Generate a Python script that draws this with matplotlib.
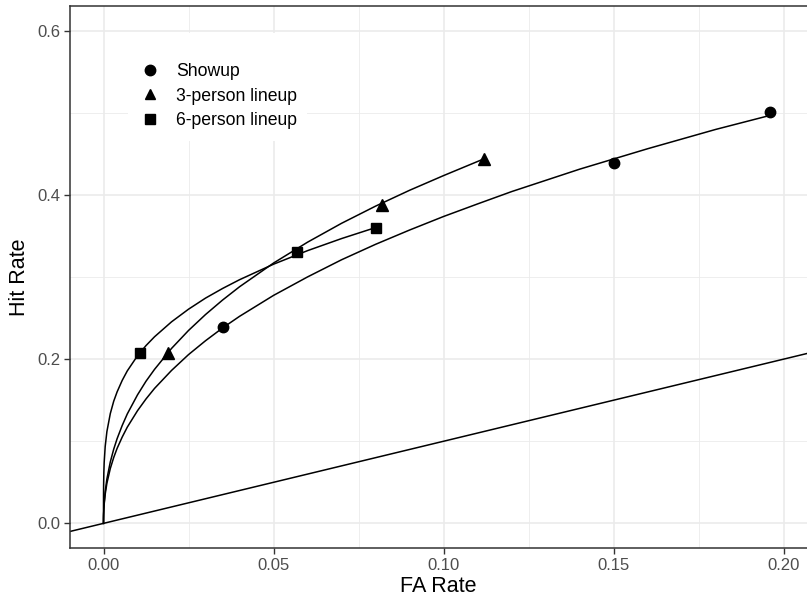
import matplotlib
matplotlib.use("Agg")
import matplotlib.pyplot as plt
from matplotlib.lines import Line2D
from matplotlib.patches import Rectangle

plt.rcParams['font.family'] = ['Liberation Sans', 'DejaVu Sans']

# observed operating points
showup_fa = [0.035, 0.150, 0.196]
showup_hit = [0.239, 0.439, 0.501]
three_fa = [0.019, 0.082, 0.112]
three_hit = [0.208, 0.388, 0.444]
six_fa = [0.0106, 0.057, 0.080]
six_hit = [0.207, 0.331, 0.360]

# fitted ROC curves
showup_curve_fa = [0, 0.000001, 0.00001, 0.00003, 0.0001, 0.0002, 0.0005, 0.001, 0.002, 0.003,
                   0.004, 0.0055, 0.007, 0.01, 0.0125, 0.015, 0.02, 0.025, 0.03, 0.035, 0.04,
                   0.05, 0.06, 0.07, 0.08, 0.09, 0.10, 0.11, 0.12, 0.14, 0.16, 0.18, 0.196]
showup_curve_hit = [0, 0.0020, 0.0058, 0.0097, 0.0170, 0.0233, 0.0355, 0.0489, 0.0668, 0.0802,
                    0.0913, 0.1051, 0.1172, 0.1372, 0.1515, 0.1643, 0.1862, 0.2055, 0.2224,
                    0.2379, 0.2521, 0.2776, 0.3001, 0.3210, 0.3398, 0.3572, 0.3737, 0.3890,
                    0.4040, 0.4313, 0.4562, 0.4797, 0.4968]
three_curve_fa = [0, 0.000001, 0.00001, 0.00003, 0.0001, 0.0002, 0.0005, 0.001, 0.002, 0.003,
                  0.004, 0.0055, 0.007, 0.01, 0.0125, 0.015, 0.02, 0.025, 0.03, 0.035, 0.04,
                  0.05, 0.06, 0.07, 0.08, 0.09, 0.10, 0.111]
three_curve_hit = [0, 0.0018, 0.0058, 0.0100, 0.0180, 0.0251, 0.0389, 0.0541, 0.0748, 0.0903,
                   0.1031, 0.1192, 0.1333, 0.1565, 0.1731, 0.1875, 0.2130, 0.2349, 0.2543,
                   0.2719, 0.2881, 0.3170, 0.3424, 0.3654, 0.3863, 0.4056, 0.4235, 0.4424]
six_curve_fa = [0, 0.000001, 0.00001, 0.00003, 0.0001, 0.0002, 0.0005, 0.001, 0.002, 0.003,
                0.004, 0.0055, 0.007, 0.01, 0.0125, 0.015, 0.02, 0.025, 0.03, 0.035, 0.04,
                0.05, 0.06, 0.07, 0.08]
six_curve_hit = [0, 0.0195, 0.0347, 0.0457, 0.0620, 0.0741, 0.0936, 0.1118, 0.1337, 0.1487,
                 0.1601, 0.1741, 0.1857, 0.2041, 0.2165, 0.2272, 0.2454, 0.2608, 0.2743,
                 0.2860, 0.2967, 0.3156, 0.3321, 0.3468, 0.3602]

labels = ['Showup', '3-person lineup', '6-person lineup']
markers = ['o', '^', 's']

fig = plt.figure(figsize=(8.07, 6.03), dpi=100)
ax = fig.add_axes([70 / 807, 55 / 603, 737 / 807, 542 / 603])

# grid like theme_bw
for x in [0.025, 0.075, 0.125, 0.175]:
    ax.axvline(x, color='#EBEBEB', lw=0.6, zorder=0)
for y in [0.1, 0.3, 0.5]:
    ax.axhline(y, color='#EBEBEB', lw=0.6, zorder=0)
for x in [0, 0.05, 0.10, 0.15, 0.20]:
    ax.axvline(x, color='#EBEBEB', lw=1.2, zorder=0)
for y in [0, 0.2, 0.4, 0.6]:
    ax.axhline(y, color='#EBEBEB', lw=1.2, zorder=0)

# white legend background that breaks the grid
ax.add_patch(Rectangle((58 / 737, 1 - 135 / 542), 179 / 737, 108 / 542,
                       transform=ax.transAxes, facecolor='white', edgecolor='none',
                       zorder=0.5))

# chance line
ax.axline((0, 0), slope=1, color='black', lw=1.1)

ax.plot(showup_curve_fa, showup_curve_hit, color='black', lw=1.1)
ax.plot(three_curve_fa, three_curve_hit, color='black', lw=1.1)
ax.plot(six_curve_fa, six_curve_hit, color='black', lw=1.1)

ax.plot(showup_fa, showup_hit, 'o', color='black', ms=7.5, ls='none')
ax.plot(three_fa, three_hit, '^', color='black', ms=8, ls='none')
ax.plot(six_fa, six_hit, 's', color='black', ms=7, ls='none')

ax.set_xlim(-0.00985, 0.20685)
ax.set_ylim(-0.03, 0.63)
ax.set_xticks([0, 0.05, 0.10, 0.15, 0.20])
ax.set_xticklabels(['0.00', '0.05', '0.10', '0.15', '0.20'])
ax.set_yticks([0.0, 0.2, 0.4, 0.6])
ax.set_yticklabels(['0.0', '0.2', '0.4', '0.6'])
ax.tick_params(length=4, width=1.0, color='#333333', labelcolor='#4D4D4D',
               labelsize=12, pad=3)
for side in ['left', 'bottom', 'top']:
    ax.spines[side].set_color('#333333')
    ax.spines[side].set_linewidth(1.1)
ax.spines['right'].set_visible(False)

ax.set_xlabel('FA Rate', fontsize=15.5, color='black', labelpad=2)
ax.set_ylabel('Hit Rate', fontsize=15.5, color='black', labelpad=5)

handles = [Line2D([], [], marker=m, color='black', ls='none', ms=7.5) for m in markers]
leg = ax.legend(handles, labels, loc='upper left', bbox_to_anchor=(70 / 737, 1 - 57 / 542),
                frameon=False, fontsize=12.7, handletextpad=0.9, labelspacing=0.43,
                borderpad=0, borderaxespad=0, handlelength=1.15)

fig.savefig('out.png', dpi=100)
